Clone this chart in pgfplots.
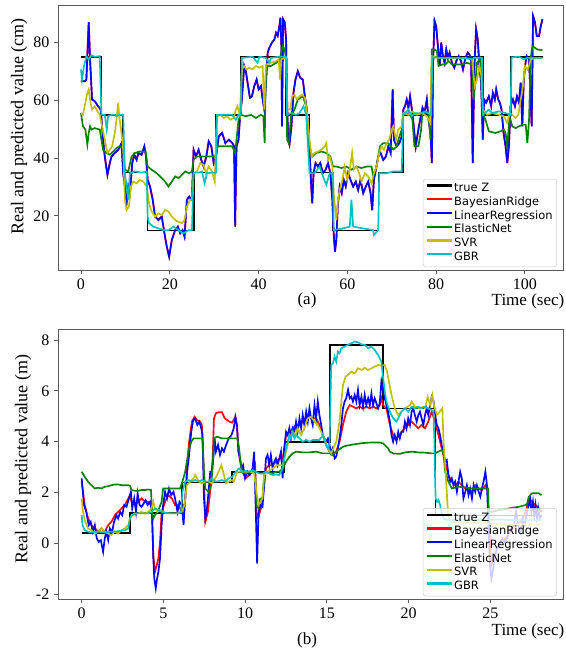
\documentclass[border=0pt]{standalone}
\usepackage{pgfplots}
\usepackage{pgfplotstable}
\pgfplotsset{compat=1.18}
\usepackage{fontspec}
\setmainfont{Liberation Serif}
\newfontfamily\legfont{DejaVu Sans}

\definecolor{cR}{rgb}{1,0,0}
\definecolor{cB}{rgb}{0,0,1}
\definecolor{cG}{rgb}{0,0.5,0}
\definecolor{cY}{rgb}{0.75,0.75,0}
\definecolor{cC}{rgb}{0,0.75,0.75}

\pgfplotsset{
  regplot/.style={
    scale only axis, width=378.75pt, anchor=south west,
    axis line style={black!65, line width=0.7pt},
    tick align=outside, tick pos=left, major tick length=3pt,
    tick style={black!65, line width=0.7pt},
    ticklabel style={font=\fontsize{12}{12}\selectfont},
    /pgf/number format/assume math mode=true,
    legend style={at={(rel axis cs:0.988,0.011)}, anchor=south east,
      draw=black!20, rounded corners=2pt, fill=white, fill opacity=0.8, text opacity=1, draw opacity=1,
      font=\legfont\fontsize{8.6}{9}\selectfont, inner sep=2pt,
      nodes={inner sep=1.1pt, text height=6.4pt, text depth=1.7pt}},
    legend cell align=left,
    legend image code/.code={\draw[#1, line width=1.7pt, draw opacity=1] (0pt,2.3pt) -- (18.5pt,2.3pt);},
    every axis plot/.append style={line width=1.25pt},
  }
}

% (a) LinearRegression, BayesianRidge lies almost exactly under it
\pgfplotstableread[row sep=\\]{x y\\
0 66.6\\ 0.83 66.6\\ 1.21 67.2\\ 1.74 87.1\\ 2.04 74.2\\ 2.49 60.3\\ 3.1 59.7\\ 3.85 58\\ 4.45 56.8\\
4.98 46.4\\ 5.36 40.6\\ 5.96 34.2\\ 6.49 38.3\\ 6.87 40.6\\ 7.62 41.8\\ 8.38 42.9\\ 9.13 45.2\\ 9.51 34.8\\
9.89 30.2\\ 10.27 24.4\\ 10.65 30.2\\ 11.02 27.9\\ 11.55 38.3\\ 12.0 41.2\\ 12.53 39.4\\ 12.91 41.8\\
13.66 41.2\\ 14.27 44.1\\ 14.65 40.6\\ 15.02 32.5\\ 15.55 30.2\\ 16.16 25.6\\ 16.69 19.8\\ 17.44 18.6\\
18.2 19.8\\ 18.8 14\\ 19.33 9.4\\ 19.86 5.9\\ 20.46 11.7\\ 21.22 15.1\\ 21.82 16.3\\ 22.35 14\\ 22.88 15.1\\
23.33 12.8\\ 23.86 25.6\\ 24.39 26.7\\ 24.99 25.6\\ 25.37 42.9\\ 25.9 40.6\\ 26.5 42.9\\ 27.1 39.4\\
27.63 37.1\\ 28.24 40.6\\ 28.77 45.8\\ 29.37 44.1\\ 29.9 38.3\\ 30.43 40.6\\ 31.03 47.5\\ 31.79 48.7\\
32.54 45.2\\ 33.3 46.4\\ 34.13 45.2\\ 34.5 44\\ 34.73 16.3\\ 35.04 44.1\\ 35.49 46.4\\ 35.79 53.3\\
36.24 60.3\\ 36.77 71.9\\ 37.15 70.1\\ 37.53 66.1\\ 38.06 60.9\\ 38.51 61.4\\ 39.04 64.9\\ 39.57 67.2\\
40.02 63.8\\ 40.55 64.9\\ 40.93 60.3\\ 41.3 56.8\\ 41.68 66.1\\ 42.06 76.5\\ 42.43 78.2\\ 43.04 80\\
43.57 81.1\\ 43.95 83.4\\ 44.32 82.3\\ 44.7 85.7\\ 44.93 88.6\\ 45.15 78.8\\ 45.3 51\\ 45.53 88.1\\
45.91 86.9\\ 46.21 81.1\\ 46.44 60.3\\ 46.66 46.4\\ 46.97 44.7\\ 47.42 51\\ 47.87 62.6\\ 48.32 67.2\\
48.85 70.1\\ 49.38 67.8\\ 49.98 67.2\\ 50.44 61.4\\ 50.89 56.8\\ 51.5 42.9\\ 51.87 30.2\\ 52.1 24.4\\
52.4 34.8\\ 52.85 38.3\\ 53.38 37.1\\ 53.91 38.3\\ 54.51 34.8\\ 55.12 36\\ 55.65 38.3\\ 56.18 34.8\\
56.63 25.6\\ 56.93 14\\ 57.23 7.6\\ 57.53 11.7\\ 57.84 23.2\\ 58.29 30.2\\ 58.74 27.9\\ 59.2 32.5\\
59.65 30.2\\ 60.18 34.8\\ 60.71 32.5\\ 61.31 30.2\\ 61.91 31.9\\ 62.44 29\\ 62.97 32.5\\ 63.58 27.9\\
64.18 30.2\\ 64.71 31.9\\ 65.24 27.9\\ 65.61 22\\ 65.99 32.5\\ 66.44 36\\ 66.97 40.6\\ 67.5 41.8\\
68.1 39.4\\ 68.71 40.6\\ 69.24 44.1\\ 69.77 41.8\\ 70.22 63.8\\ 70.52 46.4\\ 71.13 44.1\\ 71.73 45.2\\
72.26 47.5\\ 72.63 56.8\\ 73.01 58\\ 73.39 60.3\\ 73.77 57.4\\ 74.14 61.4\\ 74.67 55.6\\ 75.12 48.7\\
75.43 44.1\\ 75.88 48.7\\ 76.41 53.3\\ 76.94 57.4\\ 77.39 55.6\\ 77.92 60.3\\ 78.3 53.3\\ 78.75 48.7\\
79.05 38.3\\ 79.35 74.2\\ 79.65 87.5\\ 80.03 85.7\\ 80.41 78.8\\ 80.79 71.9\\ 81.16 80\\ 81.54 75.3\\
81.92 73\\ 82.3 77.6\\ 82.67 74.7\\ 83.05 76.5\\ 83.58 73\\ 84.11 71.3\\ 84.56 73.6\\ 85.09 75.3\\
85.62 73.6\\ 86.07 70.7\\ 86.6 74.7\\ 87.13 76.5\\ 87.51 75.9\\ 87.88 74.7\\ 88.26 38.3\\ 88.64 71.9\\
89.02 84.6\\ 89.39 81.1\\ 89.77 71.9\\ 90.15 66.1\\ 90.53 46.4\\ 90.83 60.3\\ 91.28 59.2\\ 91.89 61.4\\
92.41 58\\ 92.79 62.6\\ 93.24 60.3\\ 93.55 63.8\\ 94.0 60.3\\ 94.38 59.2\\ 94.75 56.8\\ 95.21 48.7\\
95.66 44.1\\ 96.04 38.3\\ 96.41 44.1\\ 96.79 58\\ 97.32 60.3\\ 97.77 58\\ 98.23 61.4\\ 98.68 59.2\\
99.06 66.1\\ 99.43 51\\ 99.74 66.1\\ 100.04 71.9\\ 100.42 75.3\\ 100.95 74.2\\ 101.55 51\\ 101.85 89.2\\
102.3 86.9\\ 102.68 82.3\\ 103.21 82.3\\ 103.59 85.7\\ 103.97 88.1\\
}\LRa

\begin{document}
\begin{tikzpicture}
\useasboundingbox (0,0) rectangle (424.5pt,-487.5pt);

% ---------- (a) ----------
\begin{axis}[regplot, at={(43.5pt,-202.5pt)}, height=198.75pt,
  xmin=-5.18, xmax=108.6, ymin=1.3, ymax=93,
  xtick={0,20,40,60,80,100}, ytick={20,40,60,80}]
\addplot[black, const plot] coordinates {(0,75) (4.6,55) (9.5,35) (15.0,15) (25.4,35) (30.4,55) (36.0,75) (46.2,55) (51.5,35) (56.8,15) (67.0,35) (72.6,55) (79.0,75) (90.5,55) (96.9,75) (104.0,75)};
\addplot[cR] table {\LRa};
\addplot[cB] table {\LRa};
\addplot[cG] coordinates {(0,55.6) (0.45,51) (0.98,49.9) (1.43,44.7) (1.74,48.7) (2.04,51) (2.34,49.9) (3.1,50.4) (4.23,49.9) (4.6,46.4) (4.98,42.9) (5.74,41.8) (6.49,41.2) (7.25,42.3) (8.0,43.5) (8.76,44.1) (9.51,43.5) (9.89,36) (10.65,35.4) (11.4,40.6) (12.16,41.8) (13.29,42.3) (14.57,42.3) (15.02,37.1) (15.93,36) (17.06,34.8) (18.2,33.1) (18.95,31.9) (19.71,30.2) (20.46,31.9) (21.22,33.7) (21.97,33.1) (22.73,34.2) (23.48,35.4) (24.39,34.8) (24.99,35.4) (25.37,39.4) (26.12,40.6) (27.26,40.6) (28.39,40.6) (29.52,40.6) (30.28,40.6) (30.73,44.1) (31.79,44.1) (32.92,44.1) (34.05,44.1)
 (34.73,41.8) (35.04,46.4) (35.49,53.3) (36.02,55) (37.15,54.5) (38.28,55) (39.42,53.9) (40.55,55) (41.08,54.5) (41.38,45.2) (41.68,71.9) (42.81,71.9) (43.95,73) (44.7,73.6) (45.45,78.8) (45.91,77.6) (46.21,74.2) (46.44,46.4) (46.81,45.2) (47.34,54.5) (48.1,56.8) (48.85,60.3) (49.98,61.4) (50.74,58) (51.5,44.1) (52.1,40.6) (53.0,41.8) (54.14,42.3) (55.27,41.8) (56.18,40.6) (56.78,37.1) (57.53,37.1) (58.67,36.6) (59.8,37.1) (60.93,36) (62.06,37.1) (63.2,36.6) (64.33,37.1) (65.46,37.1) (65.84,33.7) (66.59,37.1) (67.35,44.1) (68.1,45.2) (69.24,45.2) (70.37,43) (71.13,44) (71.5,46.4) (72.3,50)
 (72.63,55.6) (73.39,55.6) (74.14,55) (74.67,53.3) (75.12,44.1) (76.03,44.1) (76.63,49.9) (76.94,55.6) (77.54,55.6) (78.3,55.6) (78.75,46.4) (79.05,77.6) (79.65,77.6) (80.18,77.1) (80.56,71.9) (81.32,72.4) (82.07,72.4) (82.83,73.6) (83.58,72.4) (84.71,72.4) (85.84,72.4) (86.98,73) (88.11,72.4) (88.49,60.3) (89.24,73) (90.0,74.7) (90.53,55.6) (91.13,53.3) (91.89,49.3) (93.4,48.7) (94.53,49.3) (95.28,49.9) (95.66,48.7) (96.04,44.1) (96.57,54.5) (97.17,51) (97.92,50.4) (98.68,51) (99.43,51.6) (100.19,51.6) (100.57,45.2) (100.95,53.3) (101.32,74.7) (101.7,78.8) (102.83,77.6) (103.97,77.4)};
\addplot[cY] coordinates {(0,55.6) (0.45,55) (0.98,59.1) (1.43,62.6) (1.74,63.8) (2.04,60.3) (2.49,56.8) (3.1,58) (3.7,56.2) (4.23,55) (4.76,51) (5.36,46.4) (5.96,41.8) (6.49,42.9) (7.02,44.1) (7.62,48.7) (8.0,53.3) (8.38,59.1) (8.61,54.5) (9.13,48.7) (9.51,42.9) (9.89,25.6) (10.27,22.1) (10.8,23.2) (11.25,30.2) (11.78,31.9) (12.53,31.3) (13.29,32.5) (14.04,31.9) (14.8,30.2) (15.33,24.4) (15.93,21.5) (16.69,19.8) (17.44,20.9) (18.2,20.3) (18.95,22.1) (19.71,21.5) (20.46,19.8) (21.22,18.6) (21.97,18) (22.73,17.5) (23.33,18.6) (23.86,23.2) (24.61,25.6) (24.99,25.6) (25.37,34.8) (26.12,35.4) (26.88,38.3) (27.63,37.7) (28.16,34.8) (28.77,37.1) (29.52,35.4) (30.13,31.9) (30.58,54.5) (31.41,55) (32.16,53.9) (32.92,54.5) (33.67,53.3) (34.43,53.9)
 (34.89,56.8) (35.26,58) (35.79,55) (36.24,70.7) (36.77,71.9) (37.3,70.7) (37.9,71.3) (38.66,70.7) (39.42,71.9) (40.17,71.3) (40.93,71.9) (41.3,56.8) (41.68,72.4) (42.81,73) (43.95,73.6) (44.55,74.2) (44.85,67.2) (45.15,74.2) (45.83,74.7) (46.21,74.7) (46.51,56.8) (47.12,56.8) (47.57,61.4) (48.1,62) (48.63,60.3) (49.23,61.4) (49.83,62) (50.44,60.9) (50.89,56.2) (51.5,46.4) (51.95,40.6) (52.63,41.8) (53.38,42.3) (54.14,42.9) (54.89,44.1) (55.27,45.2) (55.65,39.4) (56.03,40.6) (56.63,37.1) (56.93,27.9) (57.23,23.2) (57.53,18.6) (57.91,25.6) (58.29,29) (58.89,32.5) (59.42,37.1) (59.95,32.5) (60.56,36) (61.08,41.8) (61.46,36) (62.06,37.1) (62.67,34.8) (63.2,31.9) (63.95,34.8) (64.71,33.7) (65.46,31.3) (65.99,34.8) (66.59,37.1) (67.2,41.8) (67.73,44.1) (68.26,42.9) (68.86,45.2) (69.46,46.4) (69.99,49.9) (70.37,51) (70.97,46.4) (71.5,49.9) (72.26,51)
 (72.63,55.6) (73.77,55) (74.67,56.2) (75.65,55) (76.79,55.6) (77.92,54.5) (78.67,52.2) (79.05,75.3) (80.56,74.7) (82.07,74.7) (83.58,74.7) (85.09,74.7) (86.6,74.7) (88.11,74.2) (88.71,64.9) (89.24,67.2) (89.77,71.9) (90.22,68.4) (90.53,56.8) (91.51,55) (92.64,55.6) (94.15,55) (95.28,54.5) (96.04,52.2) (96.57,55.6) (97.17,55) (97.92,53.9) (98.53,55) (99.06,60.3) (99.58,64.9) (100.04,71.9) (100.57,70.7) (100.95,71.9) (101.32,74.2) (102.45,74.7) (103.97,74.7)};
\addplot[cC] coordinates {(0,70.7) (0.23,67.2) (0.68,71.9) (1.21,75.3) (1.74,74.2) (2.34,75.6) (3.1,75.1) (4.23,75.3) (4.6,55) (5.36,55) (5.81,49.9) (6.11,54.5) (6.87,55) (7.62,55) (8.0,54.5) (8.38,55) (9.51,55) (9.89,34.8) (10.27,30.2) (10.65,25.6) (11.02,34.8) (12.16,35.4) (13.66,35) (14.8,35.4) (15.02,19.8) (15.33,17.5) (16.31,16.3) (17.44,15.7) (18.57,15.1) (19.71,15.1) (20.84,16.3) (21.97,15.1) (23.1,14) (24.24,15.1) (24.99,15.1) (25.37,35) (26.5,35) (27.26,35.4) (27.86,31.3) (28.39,34.8) (29.52,35) (30.43,35) (30.65,55) (32.54,55) (34.05,55)
 (34.88,53.3) (35.49,55) (36.02,55) (36.24,74.7) (38.66,75.1) (39.79,73) (40.17,75.1) (41.68,74.7) (42.43,73) (42.81,74.7) (44.7,75.1) (46.21,75.1) (46.44,55) (47.34,55.6) (48.48,55) (49.23,55.6) (50.14,58) (50.74,55) (51.5,34.8) (52.63,34.8) (53.76,37.1) (54.51,33.7) (55.27,30.8) (56.03,34.8) (56.78,34.8) (56.93,15.1) (59.04,15.7) (60.56,16.3) (60.93,25.6) (61.31,16.3) (63.58,15.7) (65.84,15.1) (65.99,13.4) (66.97,15.1) (67.2,34.8) (68.86,34.8) (70.37,35.4) (72.26,35.4)
 (72.63,55) (73.77,56.8) (74.52,54.5) (75.27,55.6) (76.79,55.6) (77.54,56.2) (78.9,55) (79.2,74.9) (81.32,74.7) (83.58,74.7) (85.84,74.7) (88.11,74.2) (88.49,74.7) (90.38,74.7) (90.53,55) (91.89,56.8) (92.64,55.6) (94.15,56.2) (95.66,55.6) (96.79,55) (97.02,74.9) (98.68,75.1) (99.81,74.2) (100.57,74.7) (103.97,74.7)};
\legend{true Z, BayesianRidge, LinearRegression, ElasticNet, SVR, GBR}
\end{axis}

% ---------- (b) ----------
\begin{axis}[regplot, at={(43.5pt,-449.5pt)}, height=202.5pt,
  xmin=-1.45, xmax=29.44, ymin=-2.2, ymax=8.42,
  xtick={0,5,10,15,20,25}, ytick={-2,0,2,4,6,8}]
\addplot[black, const plot] coordinates {(0,0.4) (2.95,1.2) (6.12,2.4) (9.2,2.8) (12.4,4.0) (15.2,7.8) (18.44,5.3) (21.65,1.1) (28.13,1.1)};
\addplot[cR] coordinates {(0,2.43) (0.18,1.51) (0.39,0.98) (0.59,0.72) (0.8,0.59) (1.0,0.46) (1.21,0.59) (1.41,0.46) (1.62,0.72) (1.82,0.85) (2.03,1.11) (2.23,1.24) (2.44,1.38) (2.64,1.51) (2.85,1.77) (2.95,1.9) (3.05,1.64) (3.26,1.51) (3.46,1.64) (3.66,1.77) (3.87,1.64) (4.07,1.64) (4.28,1.51) (4.38,-0.46) (4.48,-1.12) (4.59,-0.86) (4.69,-0.59) (4.79,0.06) (4.89,1.24) (5.1,1.64) (5.3,1.9) (5.51,1.77) (5.71,1.51) (5.92,1.51) (6.12,1.24) (6.33,1.64) (6.45,3.08) (6.57,4.0) (6.74,4.79) (6.9,4.98) (7.05,4.85) (7.25,4.79) (7.35,4.66) (7.45,3.08) (7.56,0.85) (7.72,1.24) (7.86,2.03) (8.01,3.34) (8.09,4.92) (8.21,5.12) (8.38,5.16) (8.58,5.16) (8.75,4.92) (8.89,4.85) (9.03,4.79) (9.2,4.75) (9.4,4.98) (9.52,4.4) (9.63,3.48) (9.83,2.82) (10.03,2.56) (10.24,2.69) (10.45,2.82) (10.61,3.08) (10.69,1.24) (10.79,0.98) (10.9,1.24) (11.02,1.51) (11.16,2.29) (11.27,2.95) (11.47,3.08) (11.68,3.08) (11.88,3.21) (12.09,3.34) (12.29,3.34) (12.39,3.74) (12.5,4.26) (12.7,4.39) (12.91,4.53) (13.11,4.66) (13.32,4.66) (13.52,4.79) (13.73,4.92) (13.93,5.05) (14.13,4.92) (14.34,4.92) (14.54,4.66) (14.75,4.26) (14.95,3.87) (15.16,3.61) (15.36,3.48) (15.57,3.61) (15.77,4.0) (15.98,4.66) (16.18,5.18) (16.39,5.44) (16.59,5.38) (16.8,5.31) (17.0,5.38) (17.21,5.31) (17.41,5.38) (17.62,5.31) (17.82,5.38) (18.03,5.31) (18.23,5.44) (18.33,5.71) (18.44,5.44) (18.64,5.31) (18.85,4.66) (19.05,4.26) (19.26,4.13) (19.46,4.26) (19.56,4.39) (19.77,4.53) (19.97,4.66) (20.18,4.79) (20.38,4.66) (20.59,4.53) (20.79,4.66) (21.0,4.53) (21.2,4.79) (21.41,5.18) (21.61,4.79) (21.82,4.26) (22.02,3.74) (22.23,3.21) (22.43,2.69) (22.64,2.43) (22.84,2.29) (23.05,2.43) (23.25,2.29) (23.46,2.16) (23.66,2.16) (23.87,2.03) (24.07,2.29) (24.28,2.16) (24.48,2.1) (24.69,2.29) (24.85,2.03) (24.93,0.46) (25.06,-0.86) (25.2,-0.59) (25.4,-0.2) (25.61,0.06) (25.92,0.2) (26.22,0.46) (26.53,0.72) (26.84,0.85) (27.15,1.24) (27.35,1.77) (27.55,1.64) (27.76,1.51) (27.96,1.38) (28.13,1.24)};
\addplot[cB] coordinates {(0,2.56) (0.14,1.51) (0.28,1.24) (0.43,0.72) (0.55,0.85) (0.67,0.46) (0.8,0.72) (0.92,0.2) (1.04,0.06) (1.17,0.13) (1.31,-0.33) (1.41,0.2) (1.51,0.46) (1.62,0.13) (1.72,0.59) (1.86,0.46) (1.98,0.85) (2.13,1.11) (2.23,0.98) (2.35,1.24) (2.48,1.11) (2.6,1.51) (2.74,1.44) (2.89,1.77) (3.01,2.03) (3.09,1.38) (3.21,1.77) (3.32,1.24) (3.42,1.97) (3.54,1.51) (3.66,1.44) (3.79,1.57) (3.91,1.7) (4.03,1.51) (4.18,1.64) (4.3,1.24) (4.38,-0.59) (4.44,-1.38) (4.53,-1.77) (4.61,-1.38) (4.69,-1.12) (4.79,-0.59) (4.89,0.72) (4.98,1.51) (5.1,2.03) (5.22,1.77) (5.34,2.16) (5.47,1.9) (5.61,2.03) (5.71,1.77) (5.86,1.24) (5.98,1.64) (6.12,1.51) (6.23,0.72) (6.33,1.77) (6.45,2.82) (6.57,3.48) (6.7,4.39) (6.82,4.85) (6.94,4.92) (7.07,4.66) (7.19,4.79) (7.31,4.53) (7.39,4.26) (7.48,1.77) (7.56,0.98) (7.64,1.24) (7.76,2.03) (7.86,2.82) (7.97,2.82) (8.07,3.48) (8.13,4.13) (8.21,3.61) (8.34,3.87) (8.46,3.48) (8.58,3.74) (8.7,3.61) (8.83,3.87) (8.99,4.13) (9.16,4.26) (9.3,4.53) (9.4,4.98) (9.5,4.66) (9.58,3.61) (9.68,3.34) (9.78,2.95) (9.87,3.08) (9.99,2.56) (10.14,2.82) (10.28,2.69) (10.45,2.95) (10.55,3.61) (10.65,1.24) (10.73,-0.79) (10.82,1.24) (10.94,1.51) (11.06,1.44) (11.16,2.29) (11.27,3.34) (11.37,3.48) (11.47,3.08) (11.57,3.48) (11.68,2.95) (11.78,3.21) (11.88,3.34) (11.98,3.08) (12.09,3.34) (12.19,3.61) (12.29,2.56) (12.39,3.74) (12.5,4.39) (12.6,4.26) (12.7,4.53) (12.8,4.13) (12.91,4.53) (13.01,4.39) (13.11,4.79) (13.21,4.39) (13.32,4.92) (13.42,4.53) (13.52,5.05) (13.62,4.66) (13.73,5.18) (13.83,4.79) (13.93,5.31) (14.03,4.92) (14.13,4.66) (14.24,5.44) (14.34,4.92) (14.44,5.58) (14.54,5.05) (14.65,4.66) (14.75,4.26) (14.85,4.13) (14.95,4.0) (15.06,4.13) (15.16,3.87) (15.26,3.54) (15.36,3.74) (15.47,3.34) (15.57,3.41) (15.67,3.74) (15.77,4.13) (15.88,4.66) (15.98,5.31) (16.08,5.58) (16.18,5.71) (16.29,6.04) (16.39,5.71) (16.49,5.77) (16.59,5.58) (16.7,5.84) (16.8,5.58) (16.9,6.04) (17.0,5.44) (17.11,5.77) (17.21,5.38) (17.31,5.84) (17.41,5.44) (17.52,5.71) (17.62,5.44) (17.72,5.9) (17.82,5.44) (17.92,5.71) (18.03,5.51) (18.13,5.31) (18.23,5.51) (18.33,6.36) (18.44,5.97) (18.54,5.71) (18.64,5.44) (18.74,5.18) (18.85,4.79) (18.95,4.26) (19.05,4.0) (19.15,4.26) (19.26,4.0) (19.36,4.39) (19.46,4.13) (19.56,4.39) (19.67,4.39) (19.77,4.79) (19.87,4.53) (19.97,4.92) (20.08,4.66) (20.18,5.18) (20.28,5.31) (20.38,5.05) (20.49,4.79) (20.59,5.05) (20.69,5.18) (20.79,4.92) (20.9,4.66) (21.0,5.05) (21.1,5.31) (21.2,5.05) (21.31,5.44) (21.41,5.77) (21.51,5.64) (21.61,5.12) (21.72,4.66) (21.82,4.53) (21.92,4.26) (22.02,3.87) (22.13,3.61) (22.23,3.21) (22.33,3.28) (22.43,2.69) (22.54,2.43) (22.64,2.56) (22.74,2.29) (22.84,2.43) (22.95,2.03) (23.05,2.43) (23.15,2.82) (23.25,2.56) (23.35,1.77) (23.46,2.03) (23.56,2.29) (23.66,1.9) (23.76,2.16) (23.87,1.77) (23.97,2.29) (24.07,2.03) (24.17,2.29) (24.28,2.03) (24.38,1.84) (24.48,2.16) (24.58,2.43) (24.69,2.82) (24.79,2.29) (24.89,0.46) (24.97,-0.86) (25.06,-1.38) (25.14,-1.12) (25.26,-0.59) (25.4,-0.2) (25.55,-0.07) (25.71,0.2) (25.87,0.06) (26.02,0.2) (26.16,0.46) (26.28,0.59) (26.43,0.72) (26.57,1.24) (26.69,0.72) (26.84,0.46) (26.98,0.98) (27.1,0.72) (27.25,1.24) (27.35,1.51) (27.43,1.77) (27.51,1.24) (27.6,1.64) (27.68,1.11) (27.76,1.51) (27.84,0.98) (27.92,1.38) (28.01,0.98) (28.13,1.11)};
\addplot[cG] coordinates {(0,2.82) (0.18,2.62) (0.39,2.43) (0.59,2.29) (0.8,2.16) (1.0,2.19) (1.21,2.16) (1.41,2.23) (1.62,2.25) (1.82,2.29) (2.03,2.32) (2.23,2.32) (2.44,2.29) (2.64,2.29) (2.85,2.29) (2.95,2.27) (3.05,2.1) (3.26,2.07) (3.46,2.07) (3.66,2.1) (3.87,2.1) (4.07,2.12) (4.24,2.1) (4.3,1.24) (4.38,0.98) (4.48,1.11) (4.69,1.31) (4.89,1.64) (4.98,2.16) (5.2,2.16) (5.51,2.16) (5.82,2.16) (6.02,2.16) (6.16,2.43) (6.33,2.82) (6.43,3.21) (6.53,3.61) (6.7,4.0) (6.84,4.13) (7.05,4.13) (7.25,4.13) (7.39,4.13) (7.48,2.82) (7.56,2.16) (7.76,2.03) (7.93,2.29) (8.01,3.08) (8.09,4.13) (8.28,4.2) (8.58,4.13) (8.89,4.13) (9.2,4.13) (9.52,4.13) (9.63,3.74) (9.73,3.08) (9.83,2.82) (10.03,2.75) (10.24,2.82) (10.45,2.82) (10.61,2.82) (10.69,1.51) (10.81,1.38) (10.92,1.77) (11.06,1.77) (11.16,2.69) (11.27,2.82) (11.47,2.82) (11.68,2.75) (11.88,2.82) (12.09,2.82) (12.29,2.95) (12.5,3.21) (12.7,3.41) (12.91,3.54) (13.11,3.61) (13.52,3.58) (13.93,3.58) (14.34,3.61) (14.75,3.54) (15.16,3.54) (15.36,3.5) (15.57,3.61) (15.77,3.71) (15.98,3.8) (16.18,3.84) (16.59,3.89) (17.0,3.93) (17.41,3.96) (17.82,3.97) (18.23,3.97) (18.44,3.93) (18.74,3.74) (18.85,3.61) (19.05,3.54) (19.46,3.52) (19.77,3.58) (20.18,3.61) (20.59,3.58) (21.0,3.57) (21.41,3.54) (21.61,3.54) (21.82,3.61) (22.02,3.67) (22.13,3.54) (22.23,2.82) (22.43,2.43) (22.64,2.16) (23.05,2.23) (23.46,2.2) (23.87,2.16) (24.28,2.16) (24.69,2.16) (24.85,2.16) (24.89,1.24) (25.1,1.24) (25.51,1.31) (25.92,1.35) (26.33,1.4) (26.74,1.44) (27.15,1.51) (27.25,1.57) (27.35,1.84) (27.55,1.97) (27.76,1.97) (27.96,1.97) (28.13,1.9)};
\addplot[cY] coordinates {(0,1.77) (0.08,1.24) (0.22,0.85) (0.39,0.59) (0.59,0.52) (0.8,0.39) (1.0,0.46) (1.21,0.59) (1.41,0.46) (1.62,0.39) (1.82,0.33) (2.03,0.46) (2.23,0.39) (2.44,0.52) (2.64,0.59) (2.85,0.72) (2.95,0.98) (3.09,1.11) (3.26,1.18) (3.46,1.18) (3.66,1.24) (3.87,1.18) (4.07,1.24) (4.28,1.38) (4.38,1.64) (4.48,1.38) (4.65,1.24) (4.79,1.31) (5.0,1.24) (5.2,1.18) (5.51,1.18) (5.82,1.18) (6.12,1.24) (6.29,1.51) (6.43,2.29) (6.64,2.43) (6.84,2.56) (6.94,2.69) (7.05,2.56) (7.19,2.43) (7.35,2.36) (7.56,2.43) (7.76,2.43) (7.97,2.36) (8.17,2.56) (8.38,2.82) (8.54,3.08) (8.68,2.75) (8.83,2.36) (8.99,2.43) (9.2,2.49) (9.3,2.43) (9.52,2.82) (9.73,2.82) (10.04,2.82) (10.34,2.82) (10.55,2.75) (10.69,2.03) (10.82,1.51) (10.94,1.64) (11.06,1.77) (11.16,2.69) (11.37,2.82) (11.68,2.95) (11.98,3.08) (12.29,3.08) (12.5,3.61) (12.7,4.13) (12.91,4.39) (13.11,4.26) (13.21,4.53) (13.42,4.26) (13.62,4.53) (13.83,4.92) (14.03,4.98) (14.24,4.79) (14.44,4.66) (14.65,4.39) (14.85,4.13) (15.06,3.74) (15.26,3.54) (15.4,3.74) (15.57,4.0) (15.77,4.79) (15.88,5.58) (15.98,6.23) (16.14,6.56) (16.29,6.63) (16.49,6.76) (16.7,6.69) (16.9,6.89) (17.11,6.82) (17.31,6.91) (17.52,6.82) (17.72,6.89) (17.92,6.95) (18.13,7.02) (18.33,6.99) (18.54,7.02) (18.68,6.76) (18.81,6.3) (18.95,5.84) (19.15,5.31) (19.36,5.05) (19.56,5.18) (19.77,5.31) (20.08,5.44) (20.18,5.58) (20.38,5.38) (20.69,5.31) (20.9,5.38) (21.0,5.31) (21.16,5.77) (21.31,5.44) (21.45,5.84) (21.57,5.38) (21.72,5.05) (21.82,5.12) (21.98,5.25) (22.06,5.31) (22.13,4.0) (22.23,3.08) (22.33,2.03) (22.43,0.98) (22.64,0.85) (23.05,0.83) (23.87,0.79) (24.69,0.79) (25.51,0.76) (26.33,0.76) (27.15,0.75) (28.13,0.75)};
\addplot[cC] coordinates {(0,1.11) (0.05,0.72) (0.18,0.52) (0.39,0.46) (0.59,0.43) (1.0,0.46) (1.41,0.43) (1.82,0.46) (2.23,0.48) (2.64,0.52) (2.85,0.59) (2.95,0.98) (3.05,1.11) (3.26,1.18) (3.66,1.18) (4.07,1.18) (4.28,1.24) (4.48,1.38) (4.69,1.31) (4.89,1.24) (5.1,1.2) (5.51,1.18) (5.92,1.18) (6.08,1.24) (6.16,2.03) (6.33,2.43) (6.53,2.49) (6.74,2.43) (6.94,2.49) (7.15,2.43) (7.35,2.49) (7.56,2.43) (7.76,2.43) (7.97,2.56) (8.17,2.43) (8.38,2.45) (8.58,2.49) (8.79,2.43) (8.99,2.56) (9.2,2.62) (9.3,2.69) (9.42,2.82) (9.63,2.95) (9.83,2.82) (10.04,2.85) (10.24,2.82) (10.45,2.88) (10.65,2.82) (10.86,2.75) (11.06,2.75) (11.27,2.82) (11.47,2.75) (11.68,2.69) (11.88,2.71) (12.09,2.69) (12.29,2.95) (12.39,3.34) (12.5,3.74) (12.7,4.26) (12.8,4.13) (12.91,4.39) (13.01,4.13) (13.11,4.26) (13.32,4.13) (13.52,4.0) (13.73,4.07) (13.93,4.0) (14.13,4.07) (14.34,4.07) (14.54,4.07) (14.75,4.26) (14.95,3.87) (15.06,3.74) (15.16,3.87) (15.26,7.02) (15.36,7.08) (15.47,7.35) (15.57,7.15) (15.67,7.54) (15.77,7.48) (15.88,7.68) (16.08,7.74) (16.29,7.81) (16.49,7.87) (16.7,7.94) (16.9,7.91) (17.11,7.83) (17.31,7.81) (17.52,7.68) (17.72,7.74) (17.92,7.61) (18.13,7.41) (18.23,7.28) (18.33,7.15) (18.44,6.49) (18.54,5.97) (18.64,5.58) (18.85,5.18) (19.05,4.92) (19.26,4.79) (19.46,5.05) (19.56,5.18) (19.77,5.31) (19.97,5.18) (20.18,5.38) (20.38,5.31) (20.59,5.38) (20.79,5.31) (21.0,5.38) (21.2,5.31) (21.41,5.25) (21.51,5.18) (21.57,4.13) (21.61,2.69) (21.65,1.77) (21.74,1.64) (21.82,1.71) (21.92,1.51) (22.02,1.18) (22.13,0.98) (22.33,0.92) (22.64,0.92) (23.05,0.94) (23.87,0.92) (24.69,0.92) (25.51,0.94) (26.33,0.92) (27.15,0.91) (28.13,0.92)};
\legend{true Z, BayesianRidge, LinearRegression, ElasticNet, SVR, GBR}
\end{axis}

% captions and axis titles as in the figure
\node[rotate=90, font=\fontsize{13.5}{14}\selectfont] at (14.25pt,-94.9pt) {Real and predicted value (cm)};
\node[rotate=90, font=\fontsize{13.5}{14}\selectfont] at (17.25pt,-344.25pt) {Real and predicted value (m)};
\node[font=\fontsize{12.75}{13}\selectfont, inner sep=0pt] at (396pt,-226pt) {Time (sec)};
\node[font=\fontsize{12.75}{13}\selectfont, inner sep=0pt] at (230.25pt,-225pt) {(a)};
\node[font=\fontsize{12.75}{13}\selectfont, inner sep=0pt] at (396pt,-473.25pt) {Time (sec)};
\node[font=\fontsize{12.75}{13}\selectfont, inner sep=0pt] at (230.25pt,-480pt) {(b)};
\end{tikzpicture}
\end{document}
